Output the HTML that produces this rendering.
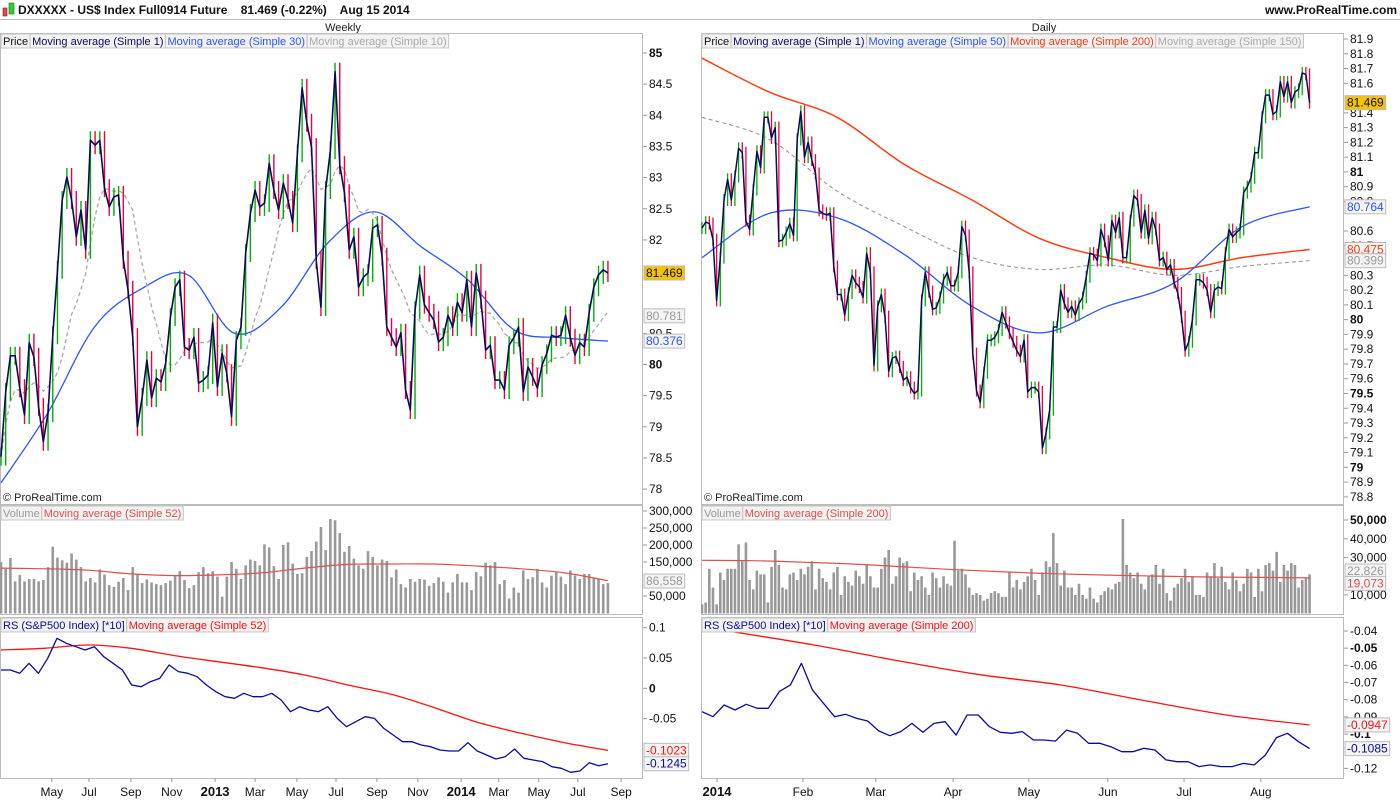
<!DOCTYPE html>
<html><head><meta charset="utf-8"><style>
html,body{margin:0;padding:0;background:#fff;}
svg{display:block;font-family:"Liberation Sans",sans-serif;}
</style></head><body>
<svg id="chart" width="1400" height="800" viewBox="0 0 1400 800" xmlns="http://www.w3.org/2000/svg">
<defs>
<clipPath id="cWP"><rect x="0" y="48" width="642" height="456"/></clipPath>
<clipPath id="cDP"><rect x="701" y="48" width="642" height="456"/></clipPath>
<clipPath id="cWV"><rect x="0" y="519" width="642" height="95"/></clipPath>
<clipPath id="cDV"><rect x="701" y="519" width="642" height="95"/></clipPath>
<clipPath id="cWR"><rect x="0" y="632" width="642" height="146"/></clipPath>
<clipPath id="cDR"><rect x="701" y="632" width="642" height="146"/></clipPath>
</defs>
<g>
<rect x="0" y="0" width="1400" height="19" fill="#fff"/>
<line x1="0" y1="19.5" x2="1400" y2="19.5" stroke="#bbb"/>
<rect x="3" y="8" width="4" height="8" fill="#e04848" stroke="#822" stroke-width="0.6"/>
<rect x="9" y="3" width="5" height="11" fill="#3c3" stroke="#171" stroke-width="0.6"/>
<text x="18" y="14" font-size="12" font-weight="bold" fill="#111" xml:space="preserve">DXXXXX - US$ Index Full0914 Future    81.469 (-0.22%)    Aug 15 2014</text>
<text x="1397" y="14" font-size="12" font-weight="bold" fill="#111" text-anchor="end">www.ProRealTime.com</text>
</g>
<text x="343" y="31" font-size="11" text-anchor="middle" fill="#222">Weekly</text>
<text x="1044" y="31" font-size="11" text-anchor="middle" fill="#222">Daily</text>
<g id="frames" fill="none" stroke="#bbb">
<rect x="0.5" y="33.5" width="642" height="471"/>
<rect x="701.5" y="33.5" width="642" height="471"/>
<rect x="0.5" y="505.5" width="642" height="109"/>
<rect x="701.5" y="505.5" width="642" height="109"/>
<rect x="0.5" y="617.5" width="642" height="161"/>
<rect x="701.5" y="617.5" width="642" height="161"/>
</g>
<g id="layer"></g>
</svg>
<script>
// ===== Weekly data =====
const weeklyClose=[78.52,79.56,80.14,80.14,79.62,79.19,80.35,80.12,79.32,78.76,79.22,80.47,81.52,82.64,83.01,82.64,82.05,82.48,81.84,83.60,83.52,83.60,82.83,82.53,82.69,82.72,81.68,81.20,80.44,79.00,79.48,80.07,79.46,79.78,79.72,80.02,80.76,81.24,81.36,80.28,80.23,80.44,79.70,79.75,79.83,80.67,79.64,80.18,79.86,79.16,80.39,80.60,81.79,82.43,82.80,82.53,82.59,83.23,82.80,82.48,82.91,82.64,82.27,83.39,84.44,83.88,83.49,81.68,80.92,82.80,83.44,84.70,83.20,82.75,81.84,82.05,81.24,81.40,81.47,82.19,82.24,81.73,80.60,80.44,80.28,80.51,79.59,79.27,80.87,81.44,80.96,80.83,80.71,80.36,80.44,80.79,80.60,81.00,80.83,81.36,80.60,81.47,81.04,80.23,80.31,79.75,79.75,79.59,80.31,80.43,80.60,79.56,79.96,79.80,79.62,79.99,80.18,80.47,80.44,80.47,80.79,80.43,80.15,80.35,80.28,80.83,81.24,81.44,81.52,81.469];
const weeklyMA30=[78.10,79.22,80.60,81.21,81.44,80.50,80.92,81.95,82.45,81.89,81.36,80.55,80.43,80.376];
const weeklyVolK=[150,130,162,93,112,93,100,100,93,97,135,195,163,155,148,175,157,135,93,103,90,128,113,82,77,92,103,68,135,113,88,99,90,85,82,88,95,110,123,97,73,82,120,135,117,123,107,48,107,150,130,100,140,157,153,140,202,193,138,100,200,208,145,115,117,165,182,210,253,185,305,273,235,180,197,160,140,130,182,165,140,157,153,105,128,85,75,100,92,100,98,80,88,105,92,60,90,115,90,90,67,120,108,148,140,150,85,97,43,75,60,125,100,105,130,90,75,110,120,107,85,125,110,100,115,115,103,100,85,88];
const weeklyVolMA=[132,130,126,115,110,112,118,132,143,144,144,138,130,118,95];
const weeklyRS=[0.0302,0.0302,0.0248,0.0412,0.0248,0.0495,0.0825,0.0742,0.0687,0.0632,0.0687,0.0522,0.0412,0.0302,0.0054,0.0027,0.0109,0.0164,0.0385,0.0275,0.0248,0.0192,0.0054,-0.0056,-0.0138,-0.0165,-0.0083,-0.0138,-0.0138,-0.0083,-0.0193,-0.0386,-0.0303,-0.0358,-0.0386,-0.0303,-0.0496,-0.0633,-0.0551,-0.0468,-0.0496,-0.0661,-0.0771,-0.0881,-0.0881,-0.0936,-0.0963,-0.1018,-0.1035,-0.1035,-0.0897,-0.1035,-0.1101,-0.1166,-0.1128,-0.1001,-0.1155,-0.1183,-0.1210,-0.1293,-0.1320,-0.1386,-0.1364,-0.1227,-0.1277,-0.1245];
const weeklyRSMA=[0.0632,0.0660,0.0715,0.0660,0.0539,0.0439,0.0340,0.0220,0.0055,-0.0099,-0.0320,-0.0562,-0.0743,-0.0897,-0.1023];
const weeklyPriceTicks=[85,84.5,84,83.5,83,82.5,82,80.5,80,79.5,79,78.5,78];
const weeklyVolTicks=[300000,250000,200000,150000,50000];
const weeklyRSTicks=[0.1,0.05,0,-0.05];
const weeklyMonthLabels=["May","Jul","Sep","Nov","2013","Mar","May","Jul","Sep","Nov","2014","Mar","May","Jul","Sep"];
const weeklyMonthBarIdx=[10.8,18.7,27.6,36.3,45.5,54,62.9,71.2,79.9,88.6,97.8,105.8,114.3,122.6,131.8];
// ===== Daily data =====
const dailyClose=[80.62,80.66,80.65,80.54,80.13,80.42,80.81,80.95,80.81,80.97,81.16,81.13,80.67,80.61,80.88,81.14,81.03,81.37,81.37,81.23,81.30,80.53,80.54,80.59,80.65,80.57,81.22,81.41,81.10,81.20,81.08,80.99,80.74,80.72,80.71,80.72,80.36,80.17,80.17,80.03,80.18,80.30,80.25,80.22,80.15,80.45,80.32,79.69,80.09,80.17,80.02,79.65,79.74,79.75,79.68,79.59,79.61,79.54,79.50,79.52,80.13,80.32,80.19,80.07,80.08,80.15,80.27,80.32,80.23,80.23,80.32,80.63,80.57,80.32,79.77,79.52,79.44,79.64,79.86,79.86,79.88,79.93,80.05,79.98,79.91,79.85,79.79,79.75,79.86,79.51,79.54,79.54,79.51,79.13,79.23,79.39,79.95,79.95,80.20,80.11,80.05,80.09,80.03,80.11,80.15,80.29,80.45,80.44,80.40,80.61,80.53,80.40,80.67,80.59,80.69,80.42,80.42,80.67,80.84,80.81,80.59,80.74,80.55,80.69,80.61,80.40,80.42,80.34,80.37,80.25,80.18,80.02,79.79,79.85,80.00,80.27,80.27,80.25,80.20,80.05,80.20,80.22,80.21,80.45,80.61,80.56,80.59,80.61,80.86,80.90,80.96,81.13,81.13,81.37,81.52,81.52,81.39,81.41,81.61,81.51,81.61,81.47,81.54,81.56,81.67,81.66,81.469];
const dailyMA50=[80.42,80.72,80.69,80.44,80.09,79.91,80.09,80.25,80.63,80.764];
const dailyMA200=[81.77,81.54,81.37,81.05,80.81,80.55,80.42,80.34,80.42,80.475];
const dailyMA150=[81.37,81.22,80.87,80.63,80.42,80.34,80.37,80.30,80.36,80.399];
const dailyVolK=[5,6,24,14,5,22,18,24,24,24,37,28,38,18,13,23,21,21,6,25,34,26,14,13,21,22,18,24,21,25,28,13,24,19,17,13,22,25,10,20,17,15,23,20,16,26,20,14,14,24,30,34,16,20,30,27,28,12,22,18,20,14,10,22,19,14,20,16,15,39,23,24,21,14,10,11,10,7,8,11,12,11,9,9,22,14,18,13,17,20,24,18,10,22,28,25,43,27,15,23,14,14,10,16,10,8,14,8,6,10,12,14,13,16,17,53,26,22,19,22,16,13,20,21,26,16,24,11,7,14,16,19,24,17,20,10,10,9,22,20,27,19,25,17,13,22,18,12,16,24,22,9,24,12,26,27,23,33,17,26,23,27,26,14,18,19,21];
const dailyVolMA=[28.5,28.3,27.5,26.5,25,23.5,22.3,21.3,20.6,20.1,19.6,19.4,19.1];
const dailyRS=[-0.0870,-0.0899,-0.0831,-0.0860,-0.0827,-0.0850,-0.0850,-0.0753,-0.0714,-0.0588,-0.0744,-0.0821,-0.0899,-0.0885,-0.0909,-0.0924,-0.0982,-0.1010,-0.0986,-0.0938,-0.0990,-0.0938,-0.0928,-0.1006,-0.0889,-0.0889,-0.0957,-0.0990,-0.0996,-0.0986,-0.1035,-0.1035,-0.1041,-0.0977,-0.0996,-0.1054,-0.1054,-0.1074,-0.1103,-0.1103,-0.1083,-0.1093,-0.1151,-0.1161,-0.1161,-0.1190,-0.1180,-0.1190,-0.1190,-0.1171,-0.1180,-0.1122,-0.1021,-0.0996,-0.1045,-0.1085];
const dailyRSMA=[-0.0400,-0.0478,-0.0569,-0.0652,-0.0714,-0.0804,-0.0889,-0.0947];
const dailyRSMAStart=7;
const dailyPriceTicks=[81.9,81.8,81.7,81.6,81.4,81.3,81.2,81.1,81,80.9,80.8,80.6,80.5,80.3,80.2,80.1,80,79.9,79.8,79.7,79.6,79.5,79.4,79.3,79.2,79.1,79,78.9,78.8];
const dailyVolTicks=[50000,40000,30000,10000];
const dailyRSTicks=[-0.04,-0.05,-0.06,-0.07,-0.08,-0.09,-0.1,-0.12];
const dailyMonthLabels=["2014","Feb","Mar","Apr","May","Jun","Jul","Aug"];
const dailyMonthBarIdx=[4.1,27.6,47.5,68.6,89.3,110.9,131.7,152.7];

// ===== scales =====
const wx=i=>1+i*4.705;
const dx=i=>702+i*3.66;
const wy=v=>53+(85-v)*62.3;
const dy=v=>39+(81.9-v)*147.7;
const wvy=k=>613-k*0.34;
const dvy=k=>613.75-k*1.875;
const wry=v=>688.3-v*606;
const dry=v=>631+(-0.04-v)*1717;

const NS="http://www.w3.org/2000/svg";
const layer=document.getElementById('layer');
function mk(tag,attrs,parent){const e=document.createElementNS(NS,tag);for(const k in attrs)e.setAttribute(k,attrs[k]);(parent||layer).appendChild(e);return e;}
function grp(clip){const g=mk('g',clip?{'clip-path':'url(#'+clip+')'}:{});return g;}
function poly(pts,stroke,w,dash,parent,name){
  const p=mk('polyline',{points:pts.map(p=>p[0].toFixed(1)+','+p[1].toFixed(1)).join(' '),fill:'none',stroke:stroke,'stroke-width':w,'stroke-linejoin':'round'},parent);
  if(dash)p.setAttribute('stroke-dasharray',dash);
  
  
  return p;
}
function smooth(pts,stroke,w,dash,parent,name){
  let d='M'+pts[0][0].toFixed(1)+','+pts[0][1].toFixed(1);
  for(let i=0;i<pts.length-1;i++){
    const p0=pts[Math.max(0,i-1)],p1=pts[i],p2=pts[i+1],p3=pts[Math.min(pts.length-1,i+2)];
    const c1=[p1[0]+(p2[0]-p0[0])/6,p1[1]+(p2[1]-p0[1])/6];
    const c2=[p2[0]-(p3[0]-p1[0])/6,p2[1]-(p3[1]-p1[1])/6];
    d+=' C'+c1.map(v=>v.toFixed(1)).join(',')+' '+c2.map(v=>v.toFixed(1)).join(',')+' '+p2.map(v=>v.toFixed(1)).join(',');
  }
  const p=mk('path',{d:d,fill:'none',stroke:stroke,'stroke-width':w},parent);
  if(dash)p.setAttribute('stroke-dasharray',dash);
  
  
  return p;
}
function sampled(arr,n,from,xf,yf){const to=n-1;return arr.map((v,j)=>[xf(from+j*(to-from)/(arr.length-1)),yf(v)]);}
function sma(arr,w){return arr.map((_,i)=>{const s=arr.slice(Math.max(0,i-w+1),i+1);return s.reduce((a,b)=>a+b,0)/s.length;});}

function priceBars(closes,xf,yf,pad,clip,width){
  const g=grp(clip);
  
  
  closes.forEach((c,i)=>{
    const o=i>0?closes[i-1]:c;
    const up=c>=o;
    const y1=Math.min(yf(c),yf(o))-pad, y2=Math.max(yf(c),yf(o))+pad;
    const x=xf(i);
    const l=mk('line',{x1:x,x2:x,y1:y1,y2:y2,stroke:up?'#00b000':'#f0003c','stroke-width':width},g);
    
    
  });
  return g;
}
function volBars(vals,n,xf,yf,clip){
  const g=grp(clip);
  
  
  vals.forEach((v,j)=>{
    const x=xf(j*(n-1)/(vals.length-1));
    const r=mk('rect',{x:x-1.3,y:yf(v),width:2.6,height:613.5-yf(v),fill:'#999'},g);
    
    
  });
}
function ticks(vals,yf,x,fmt,boldFn,miny,maxy){
  vals.forEach(v=>{
    const y=yf(v); if(y<miny||y>maxy)return;
    mk('line',{x1:x,x2:x+4,y1:y,y2:y,stroke:'#999'});
    const t=mk('text',{x:x+6,y:y+4,'font-size':12,fill:'#111','font-weight':boldFn(v)?'bold':'normal'});
    t.textContent=fmt(v);
    
    
  });
}
function tag(x,y,txt,color,bg,bold){
  const r=mk('rect',{x:x,y:y-7,width:10,height:14,fill:bg,stroke:'#bbb'});
  const t=mk('text',{x:x+2,y:y+4,'font-size':12,fill:color,'font-weight':bold?'bold':'normal'});
  t.textContent=txt;
  
  
  r.setAttribute('width',t.getComputedTextLength()+4);
}
function legend(x,y,items){
  items.forEach(([txt,col])=>{
    const r=mk('rect',{x:x,y:y,width:10,height:14,fill:'#f2f2f2',stroke:'#c4c4c4'});
    const t=mk('text',{x:x+2,y:y+11,'font-size':11,fill:col});
    t.textContent=txt;
    
    
    const w=t.getComputedTextLength()+4;
    r.setAttribute('width',w);
    x+=w;
  });
}
const fmtN=v=>v.toLocaleString('en-US');

// ===== Weekly price =====
const nW=weeklyClose.length;
let g=grp('cWP');
smooth(sampled(weeklyMA30,nW,0,wx,wy),'#2a55ff',1.3,null,g,'weekly-ma30');
poly(sma(weeklyClose,10).map((v,i)=>[wx(i),wy(v)]),'#aaa',1.3,'4,3',g,'weekly-ma10');
priceBars(weeklyClose,wx,wy,9,'cWP',1.4);
g=grp('cWP');
poly(weeklyClose.map((v,i)=>[wx(i),wy(v)]),'#0a0a5a',1.6,null,g,'weekly-close-line');
ticks(weeklyPriceTicks,wy,643,v=>String(v),v=>v===85||v===80,40,500);
tag(644,wy(80.781),'80.781','#999','#f4f4f4');
tag(644,wy(80.376),'80.376','#2a55ff','#f4f4f4');
tag(644,wy(81.469),'81.469','#111','#f5c400');
legend(1,34,[["Price","#111"],["Moving average (Simple 1)","#0a0a66"],["Moving average (Simple 30)","#2a55ff"],["Moving average (Simple 10)","#aaa"]]);
// ===== Daily price =====
const nD=dailyClose.length;
g=grp('cDP');
smooth(sampled(dailyMA200,nD,0,dx,dy),'#ff3a10',1.5,null,g,'daily-ma200');
smooth(sampled(dailyMA150,nD,0,dx,dy),'#999',1.1,'4,3',g,'daily-ma150');
smooth(sampled(dailyMA50,nD,0,dx,dy),'#2a55ff',1.3,null,g,'daily-ma50');
priceBars(dailyClose,dx,dy,6,'cDP',1.3);
g=grp('cDP');
poly(dailyClose.map((v,i)=>[dx(i),dy(v)]),'#0a0a5a',1.5,null,g,'daily-close-line');
ticks(dailyPriceTicks,dy,1344,v=>String(v),v=>Math.abs(v*2-Math.round(v*2))<1e-6,36,500);
tag(1345,dy(80.764),'80.764','#2a55ff','#f4f4f4');
tag(1345,dy(80.475),'80.475','#ff3a10','#f4f4f4');
tag(1345,dy(80.399),'80.399','#999','#f4f4f4');
tag(1345,dy(81.469),'81.469','#111','#f5c400');
legend(702,34,[["Price","#111"],["Moving average (Simple 1)","#0a0a66"],["Moving average (Simple 50)","#2a55ff"],["Moving average (Simple 200)","#ff3a10"],["Moving average (Simple 150)","#aaa"]]);
[[3,'weekly-copyright'],[704,'daily-copyright']].forEach(([x,n])=>{const t=mk('text',{x:x,y:501,'font-size':11,fill:'#222'});t.textContent='© ProRealTime.com';});
// ===== Volume =====
volBars(weeklyVolK,nW,wx,wvy,'cWV');
g=grp('cWV');smooth(sampled(weeklyVolMA,nW,0,wx,wvy),'#e05050',1.2,null,g,'weekly-volume-ma52');
ticks(weeklyVolTicks,v=>wvy(v/1000),643,fmtN,()=>false,505,612);
tag(644,wvy(94),'86,558','#999','#f4f4f4');
legend(1,506,[["Volume","#999"],["Moving average (Simple 52)","#e05050"]]);
volBars(dailyVolK,nD,dx,dvy,'cDV');
g=grp('cDV');smooth(sampled(dailyVolMA,nD,0,dx,dvy),'#e05050',1.2,null,g,'daily-volume-ma200');
ticks(dailyVolTicks,v=>dvy(v/1000),1344,fmtN,v=>v===50000,505,612);
tag(1345,dvy(22.8),'22,826','#999','#f4f4f4');
tag(1345,dvy(16.2),'19,073','#e05050','#f4f4f4');
legend(702,506,[["Volume","#999"],["Moving average (Simple 200)","#e05050"]]);
// ===== RS =====
g=grp('cWR');
smooth(sampled(weeklyRSMA,nW,0,wx,wry),'#ff1010',1.3,null,g,'weekly-rs-ma52');
poly(sampled(weeklyRS,nW,0,wx,wry),'#0a0aa0',1.3,null,g,'weekly-rs-line');
ticks(weeklyRSTicks,wry,643,v=>String(v),v=>v===0,620,778);
tag(644,wry(-0.1023),'-0.1023','#ff1010','#f4f4f4');
tag(644,wry(-0.1245),'-0.1245','#0a0aa0','#f4f4f4');
legend(1,618,[["RS (S&P500 Index) [*10]","#0a0aa0"],["Moving average (Simple 52)","#ff1010"]]);
g=grp('cDR');
smooth(sampled(dailyRSMA,nD,dailyRSMAStart,dx,dry),'#ff1010',1.3,null,g,'daily-rs-ma200');
poly(sampled(dailyRS,nD,0,dx,dry),'#0a0aa0',1.3,null,g,'daily-rs-line');
ticks(dailyRSTicks,dry,1344,v=>String(v),v=>v===-0.05||v===-0.1,620,778);
tag(1345,dry(-0.0947),'-0.0947','#ff1010','#f4f4f4');
tag(1345,dry(-0.1085),'-0.1085','#0a0aa0','#f4f4f4');
legend(702,618,[["RS (S&P500 Index) [*10]","#0a0aa0"],["Moving average (Simple 200)","#ff1010"]]);
// ===== X axes =====
function xAxis(labels,idx,xf){
  labels.forEach((l,j)=>{
    const x=xf(idx[j]);
    mk('line',{x1:x,x2:x,y1:778,y2:782,stroke:'#999'});
    const bold=/^\d{4}$/.test(l);
    const t=mk('text',{x:x,y:796,'font-size':bold?13:12,'font-weight':bold?'bold':'normal','text-anchor':'middle',fill:'#111'});
    t.textContent=l;
    
    
  });
}
xAxis(weeklyMonthLabels,weeklyMonthBarIdx,wx);
xAxis(dailyMonthLabels,dailyMonthBarIdx,dx);
</script>
</body></html>
